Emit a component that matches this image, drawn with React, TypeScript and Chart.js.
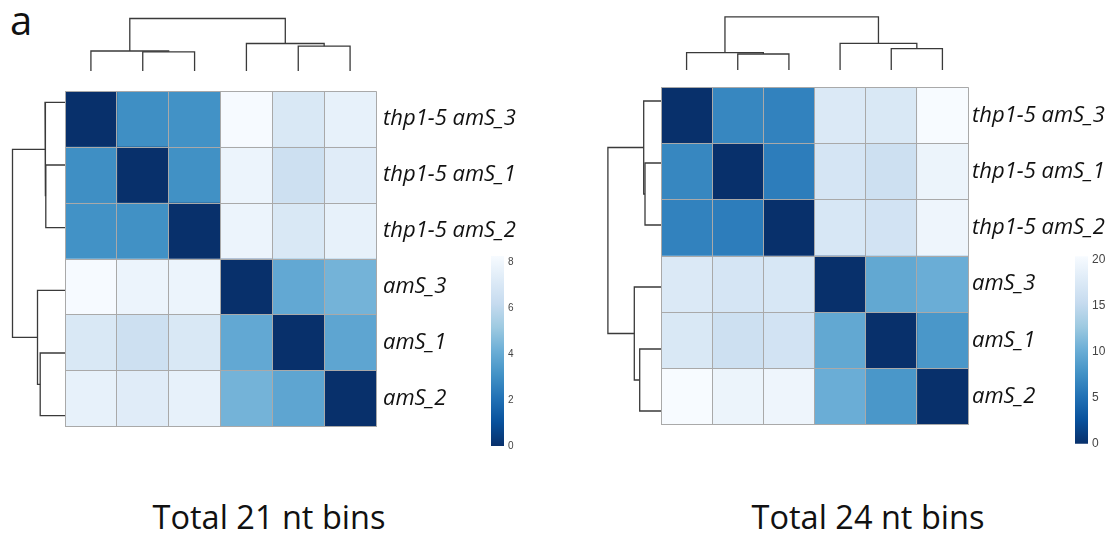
import React, { useEffect, useRef } from "react";
import { Chart, registerables } from "chart.js";
Chart.register(...registerables);

// ---------------- DATA ----------------
const sampleLabels = ["thp1-5 amS_3", "thp1-5 amS_1", "thp1-5 amS_2", "amS_3", "amS_1", "amS_2"];

// Total 21 nt bins: sample-to-sample distances (rows in the displayed order)
const d21_thp3 = [0, 3.0, 3.1, 8.2, 7.0, 7.6];
const d21_thp1 = [3.0, 0, 3.05, 7.8, 6.5, 7.3];
const d21_thp2 = [3.1, 3.05, 0, 7.8, 7.0, 7.6];
const d21_ams3 = [8.2, 7.8, 7.8, 0, 3.9, 4.3];
const d21_ams1 = [7.0, 6.5, 7.0, 3.9, 0, 3.8];
const d21_ams2 = [7.6, 7.3, 7.6, 4.3, 3.8, 0];

// Total 24 nt bins
const d24_thp3 = [0, 6.8, 6.4, 17.5, 17.3, 20.3];
const d24_thp1 = [6.8, 0, 6.0, 16.9, 16.0, 19.2];
const d24_thp2 = [6.4, 6.0, 0, 17.1, 16.5, 19.4];
const d24_ams3 = [17.5, 16.9, 17.1, 0, 9.6, 10.1];
const d24_ams1 = [17.3, 16.0, 16.5, 9.6, 0, 8.1];
const d24_ams2 = [20.3, 19.2, 19.4, 10.1, 8.1, 0];

// colour-key ranges and tick steps
const keyMax21 = 8.25;
const keyStep21 = 2;
const keyMax24 = 20.35;
const keyStep24 = 5;

// dendrogram (hclust-style merge encoding: negative = leaf, positive = earlier merge)
const mergeLeftChild = [-2, -1, -5, -4, 2];
const mergeRightChild = [-3, 1, -6, 3, 4];
const heights21 = [19.2, 20.0, 24.8, 27.5, 52.5];
const heights24 = [16.0, 17.3, 21.3, 26.7, 53.1];

const titles = ["Total 21 nt bins", "Total 24 nt bins"];
const panelLetter = "a";

// ---------------- STYLE ----------------
const bluesRev = ["#08306B", "#08519C", "#2171B5", "#4292C6", "#6BAED6", "#9ECAE1", "#C6DBEF", "#DEEBF7", "#F7FBFF"];
const gridColor = "#a9a9a9";
const dendroColor = "#3a3a3a";
const labelFont = "'Open Sans', 'Noto Sans', sans-serif";

function hexToRgb(h: string) {
  const n = parseInt(h.slice(1), 16);
  return [(n >> 16) & 255, (n >> 8) & 255, n & 255];
}
function colorFor(v: number, max: number) {
  const t = Math.max(0, Math.min(1, v / max)) * (bluesRev.length - 1);
  const i = Math.min(Math.floor(t), bluesRev.length - 2);
  const f = t - i;
  const a = hexToRgb(bluesRev[i]);
  const b = hexToRgb(bluesRev[i + 1]);
  const c = a.map((x, k) => Math.round(x + (b[k] - x) * f));
  return `rgb(${c[0]},${c[1]},${c[2]})`;
}

type Node = { p: number; h: number };
function dendroLinks(heights: number[]) {
  const nodes: Node[] = [];
  const get = (id: number): Node => (id < 0 ? { p: -id - 0.5, h: 0 } : nodes[id - 1]);
  const links: { a: Node; b: Node; h: number }[] = [];
  for (let i = 0; i < heights.length; i++) {
    const a = get(mergeLeftChild[i]);
    const b = get(mergeRightChild[i]);
    nodes.push({ p: (a.p + b.p) / 2, h: heights[i] });
    links.push({ a, b, h: heights[i] });
  }
  return links;
}

// ---------------- CHART BUILDERS ----------------
function heatmapConfig(matrix: number[][], max: number, labelW: number, labelPad: number): any {
  return {
    type: "bar",
    data: {
      labels: sampleLabels,
      datasets: sampleLabels.map((c, j) => ({
        label: c,
        data: sampleLabels.map(() => [j, j + 1]),
        backgroundColor: matrix.map((row) => colorFor(row[j], max)),
        borderWidth: 0,
        barPercentage: 1,
        categoryPercentage: 1,
        grouped: false,
      })),
    },
    options: {
      indexAxis: "y",
      animation: false,
      responsive: false,
      maintainAspectRatio: false,
      layout: { padding: 0, autoPadding: false },
      plugins: { legend: { display: false }, tooltip: { enabled: false } },
      scales: {
        x: {
          type: "linear",
          min: 0,
          max: sampleLabels.length,
          ticks: { display: false, stepSize: 1 },
          grid: { color: gridColor, lineWidth: 1, drawTicks: false, z: 1 },
          border: { display: false },
          afterFit: (s: any) => {
            s.height = 0;
          },
        },
        y: {
          type: "category",
          position: "right",
          offset: true,
          ticks: {
            padding: labelPad,
            color: "#111",
            font: { family: labelFont, style: "italic", size: 22 },
          },
          grid: { offset: true, color: gridColor, lineWidth: 1, drawTicks: false, z: 1 },
          border: { display: false },
          afterFit: (s: any) => {
            s.width = labelW;
          },
        },
      },
    },
  };
}

function dendroConfig(heights: number[], orientation: "top" | "left", extent: number): any {
  const links = dendroLinks(heights);
  const datasets = links.map(({ a, b, h }) => ({
    data:
      orientation === "top"
        ? [
            { x: a.p, y: a.h },
            { x: a.p, y: h },
            { x: b.p, y: h },
            { x: b.p, y: b.h },
          ]
        : [
            { x: a.h, y: a.p },
            { x: h, y: a.p },
            { x: h, y: b.p },
            { x: b.h, y: b.p },
          ],
    showLine: true,
    pointRadius: 0,
    borderColor: dendroColor,
    borderWidth: 1.3,
    tension: 0,
    fill: false,
  }));
  const leafAxis = { type: "linear", display: false, min: 0, max: sampleLabels.length };
  const heightAxis = { type: "linear", display: false, min: 0, max: extent };
  return {
    type: "scatter",
    data: { datasets },
    options: {
      animation: false,
      responsive: false,
      maintainAspectRatio: false,
      layout: { padding: 0, autoPadding: false },
      plugins: { legend: { display: false }, tooltip: { enabled: false } },
      scales:
        orientation === "top"
          ? { x: leafAxis, y: heightAxis }
          : { x: { ...heightAxis, reverse: true }, y: { ...leafAxis, reverse: true } },
    },
  };
}

function colorKeyConfig(max: number, step: number, fontSize: number, labelW: number, pad: number): any {
  return {
    type: "bar",
    data: {
      labels: [""],
      datasets: [
        {
          data: [[0, max]],
          borderWidth: 0,
          barPercentage: 1,
          categoryPercentage: 1,
          backgroundColor: (ctx: any) => {
            const chart = ctx.chart;
            if (!chart.chartArea) return bluesRev[4];
            const y0 = chart.scales.y.getPixelForValue(0);
            const y1 = chart.scales.y.getPixelForValue(max);
            const g = chart.ctx.createLinearGradient(0, y0, 0, y1);
            bluesRev.forEach((c, i) => g.addColorStop(i / (bluesRev.length - 1), c));
            return g;
          },
        },
      ],
    },
    options: {
      animation: false,
      responsive: false,
      maintainAspectRatio: false,
      layout: { padding: { top: 8, bottom: 8, left: 0, right: 0 } },
      plugins: { legend: { display: false }, tooltip: { enabled: false } },
      scales: {
        x: { type: "category", display: false },
        y: {
          type: "linear",
          position: "right",
          min: 0,
          max,
          ticks: {
            stepSize: step,
            includeBounds: false,
            padding: pad,
            color: "#444",
            font: { family: "'Liberation Sans', Arial, sans-serif", size: fontSize },
          },
          grid: { display: false, drawTicks: false },
          border: { display: false },
          afterFit: (s: any) => {
            s.width = labelW;
          },
        },
      },
    },
  };
}

// ---------------- COMPONENTS ----------------
function ChartBox({ left, top, width, height, make }: { left: number; top: number; width: number; height: number; make: () => any }) {
  const ref = useRef<HTMLCanvasElement>(null);
  useEffect(() => {
    const chart = new Chart(ref.current as HTMLCanvasElement, make());
    return () => chart.destroy();
  }, []);
  return (
    <canvas
      ref={ref}
      width={width}
      height={height}
      style={{ position: "absolute", left, top, width, height, display: "block" }}
    />
  );
}

type PanelGeom = {
  hmLeft: number;
  hmTop: number;
  hmW: number;
  hmH: number;
  labelW: number;
  labelPad: number;
  dendroLeftX: number;
  keyLeft: number;
  keyTop: number;
  keyW: number;
  keyH: number;
  keyLabelW: number;
  keyPad: number;
  keyFont: number;
  titleCx: number;
};

function Panel({ g, matrix, heights, keyMax, keyStep, title }: { g: PanelGeom; matrix: number[][]; heights: number[]; keyMax: number; keyStep: number; title: string }) {
  return (
    <>
      <ChartBox
        left={g.hmLeft}
        top={0}
        width={g.hmW}
        height={g.hmTop}
        make={() => dendroConfig(heights, "top", g.hmTop)}
      />
      <ChartBox
        left={g.dendroLeftX}
        top={g.hmTop}
        width={g.hmLeft - g.dendroLeftX}
        height={g.hmH}
        make={() => dendroConfig(heights, "left", g.hmLeft - g.dendroLeftX)}
      />
      <ChartBox
        left={g.hmLeft}
        top={g.hmTop}
        width={g.hmW + g.labelW}
        height={g.hmH}
        make={() => heatmapConfig(matrix, keyMax, g.labelW, g.labelPad)}
      />
      <ChartBox
        left={g.keyLeft}
        top={g.keyTop - 8}
        width={g.keyW + g.keyLabelW}
        height={g.keyH + 16}
        make={() => colorKeyConfig(keyMax, keyStep, g.keyFont, g.keyLabelW, g.keyPad)}
      />
      <div
        style={{
          position: "absolute",
          left: g.titleCx - 200,
          width: 400,
          top: 495,
          textAlign: "center",
          fontFamily: labelFont,
          fontSize: 32.5,
          lineHeight: "44px",
          color: "#111",
          whiteSpace: "nowrap",
        }}
      >
        {title}
      </div>
    </>
  );
}

const geom21: PanelGeom = {
  hmLeft: 65, hmTop: 71, hmW: 311, hmH: 376, labelW: 150, labelPad: 7, dendroLeftX: 0,
  keyLeft: 491, keyTop: 254, keyW: 13, keyH: 194, keyLabelW: 24, keyPad: 4, keyFont: 10, titleCx: 269,
};
const geom24: PanelGeom = {
  hmLeft: 661, hmTop: 70, hmW: 307, hmH: 372, labelW: 148, labelPad: 4, dendroLeftX: 600,
  keyLeft: 1075, keyTop: 253, keyW: 13, keyH: 194, keyLabelW: 28, keyPad: 4, keyFont: 12, titleCx: 868,
};

export default function App() {
  const m21 = [d21_thp3, d21_thp1, d21_thp2, d21_ams3, d21_ams1, d21_ams2];
  const m24 = [d24_thp3, d24_thp1, d24_thp2, d24_ams3, d24_ams1, d24_ams2];
  return (
    <div
      style={{
        position: "absolute",
        left: 0,
        top: 0,
        width: 1117,
        height: 539,
        background: "#fff",
        overflow: "hidden",
      }}
    >
      <div
        style={{
          position: "absolute",
          left: 10,
          top: -6,
          fontFamily: labelFont,
          fontSize: 40,
          lineHeight: "52px",
          color: "#111",
        }}
      >
        {panelLetter}
      </div>
      <Panel g={geom21} matrix={m21} heights={heights21} keyMax={keyMax21} keyStep={keyStep21} title={titles[0]} />
      <Panel g={geom24} matrix={m24} heights={heights24} keyMax={keyMax24} keyStep={keyStep24} title={titles[1]} />
    </div>
  );
}
